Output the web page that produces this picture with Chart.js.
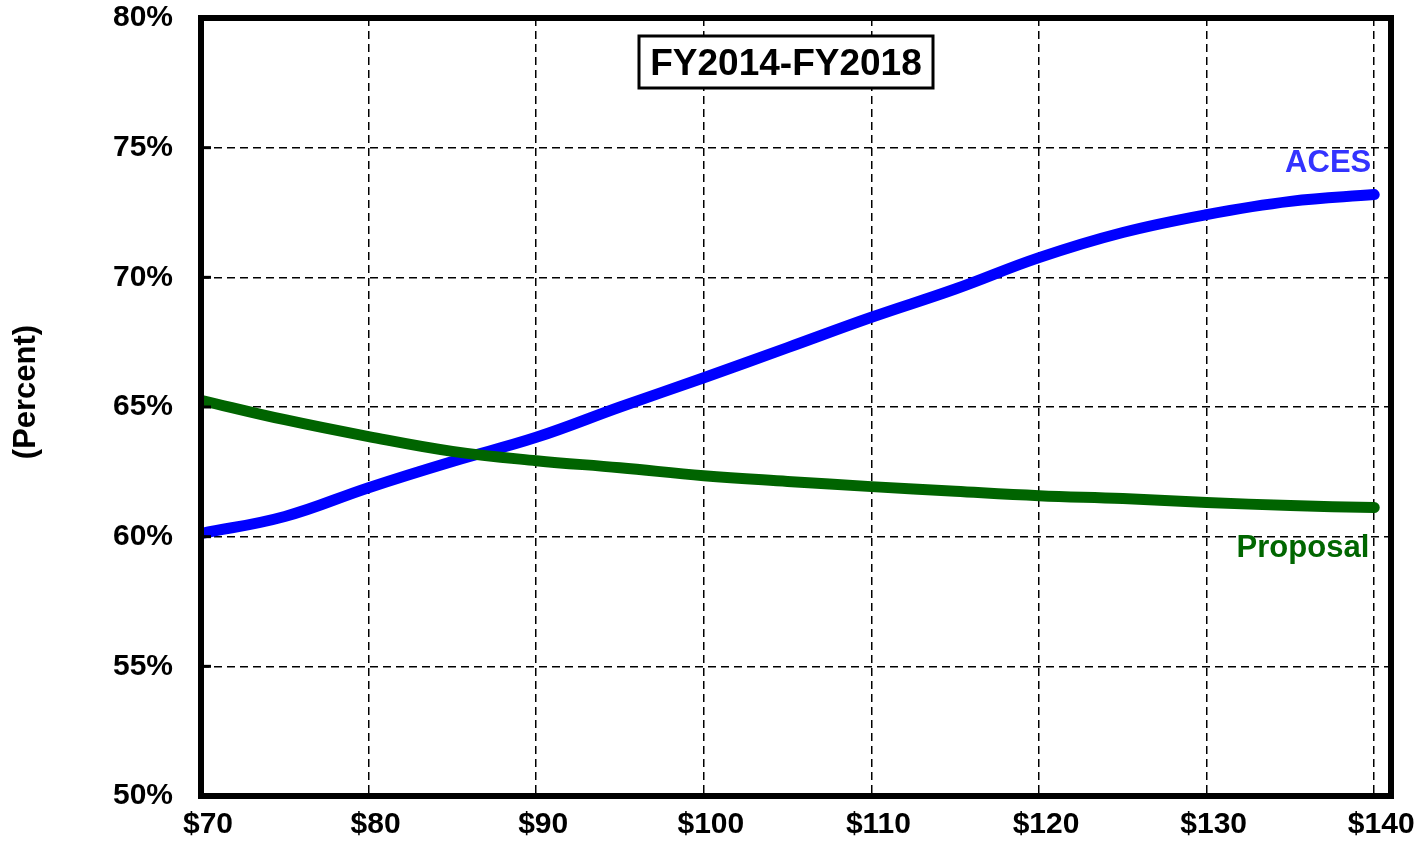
<!DOCTYPE html>
<html><head><meta charset="utf-8">
<script src="https://cdn.jsdelivr.net/npm/chart.js@4.4.1/dist/chart.umd.min.js"></script>
<style>html,body{margin:0;padding:0;background:#fff;} #wrap{width:1427px;height:844px;}</style>
</head><body><div id="wrap"><canvas id="c" width="1427" height="844"></canvas></div>
<script>
const prices = [70,75,80,85,90,95,100,105,110,115,120,125,130,135,140];
const acesShare = [60.12,60.78,61.89,62.90,63.83,65.00,66.13,67.29,68.46,69.55,70.76,71.73,72.42,72.93,73.19];
const proposalShare = [65.26,64.51,63.86,63.29,62.93,62.66,62.35,62.13,61.93,61.75,61.58,61.47,61.32,61.20,61.12];
const xTickValues = [70,80,90,100,110,120,130,140];
const yTickValues = [50,55,60,65,70,75,80];
const seriesNames = ['ACES','Proposal'];
const chartTitle = 'FY2014-FY2018';
const yAxisTitle = '(Percent)';

const FAMILY = '"Liberation Sans", Arial, sans-serif';

const annotate = {
  id: 'annotate',
  afterDatasetsDraw(chart) {
    const ctx = chart.ctx;
    const a = chart.chartArea;
    const xs = chart.scales.x, ys = chart.scales.y;
    ctx.save();
    // inward y tick marks
    ctx.strokeStyle = '#000';
    ctx.lineWidth = 3;
    yTickValues.forEach(v => {
      const y = ys.getPixelForValue(v);
      ctx.beginPath(); ctx.moveTo(a.left, y); ctx.lineTo(a.left + 10, y); ctx.stroke();
    });
    // frame
    ctx.lineWidth = 6;
    ctx.strokeRect(a.left, a.top, a.right - a.left, a.bottom - a.top);
    // title box
    const bx = a.left + 438, by = a.top + 18, bw = 294, bh = 52;
    ctx.fillStyle = '#fff';
    ctx.fillRect(bx, by, bw, bh);
    ctx.lineWidth = 3;
    ctx.strokeRect(bx, by, bw, bh);
    ctx.fillStyle = '#000';
    ctx.font = 'bold 37px ' + FAMILY;
    ctx.textAlign = 'center';
    ctx.textBaseline = 'alphabetic';
    ctx.fillText(chartTitle, bx + bw / 2, by + 39);
    // series labels
    const lastX = xs.getPixelForValue(prices[prices.length - 1]);
    ctx.font = 'bold 31px ' + FAMILY;
    ctx.textAlign = 'right';
    ctx.fillStyle = '#3333ff';
    ctx.fillText(seriesNames[0], lastX - 3, ys.getPixelForValue(acesShare[acesShare.length - 1]) - 23);
    ctx.fillStyle = '#006600';
    ctx.fillText(seriesNames[1], lastX - 5, ys.getPixelForValue(proposalShare[proposalShare.length - 1]) + 49);
    // y axis title
    ctx.fillStyle = '#000';
    ctx.font = 'bold 31px ' + FAMILY;
    ctx.translate(35, 392);
    ctx.rotate(-Math.PI / 2);
    ctx.textAlign = 'center';
    ctx.fillText(yAxisTitle, 0, 0);
    ctx.restore();
  }
};

new Chart(document.getElementById('c'), {
  type: 'line',
  data: {
    datasets: [
      {
        label: seriesNames[1],
        data: prices.map((p, i) => ({x: p, y: proposalShare[i]})),
        borderColor: '#006400', borderWidth: 11, pointRadius: 0,
        borderCapStyle: 'round', borderJoinStyle: 'round',
        tension: 0.4, fill: false, order: 0
      },
      {
        label: seriesNames[0],
        data: prices.map((p, i) => ({x: p, y: acesShare[i]})),
        borderColor: '#0000ff', borderWidth: 11, pointRadius: 0,
        borderCapStyle: 'round', borderJoinStyle: 'round',
        tension: 0.4, fill: false, order: 1
      }
    ]
  },
  options: {
    responsive: false,
    animation: false,
    layout: {padding: {top: 18, right: 36, left: 0, bottom: 0}},
    plugins: {legend: {display: false}, tooltip: {enabled: false}, title: {display: false}},
    scales: {
      x: {
        type: 'linear', min: 70, max: 141,
        afterFit(s) { s.height = 48; s.paddingLeft = 0; s.paddingRight = 0; },
        afterBuildTicks(s) { s.ticks = xTickValues.map(v => ({value: v})); },
        grid: {color: '#000', lineWidth: 1.5, drawTicks: false},
        border: {display: false, dash: [8, 5]},
        ticks: {
          padding: 11, labelOffset: 7, color: '#000', autoSkip: false, maxRotation: 0,
          font: {family: FAMILY, size: 30, weight: 'bold'},
          callback: v => '$' + v
        }
      },
      y: {
        type: 'linear', min: 50, max: 80,
        afterFit(s) { s.width = 201; s.paddingTop = 0; s.paddingBottom = 0; },
        afterBuildTicks(s) { s.ticks = yTickValues.map(v => ({value: v})); },
        grid: {color: '#000', lineWidth: 1.5, drawTicks: false},
        border: {display: false, dash: [8, 5]},
        ticks: {
          padding: 28, color: '#000', autoSkip: false,
          font: {family: FAMILY, size: 30, weight: 'bold'},
          callback: v => v + '%'
        }
      }
    }
  },
  plugins: [annotate]
});
</script>
</body></html>
